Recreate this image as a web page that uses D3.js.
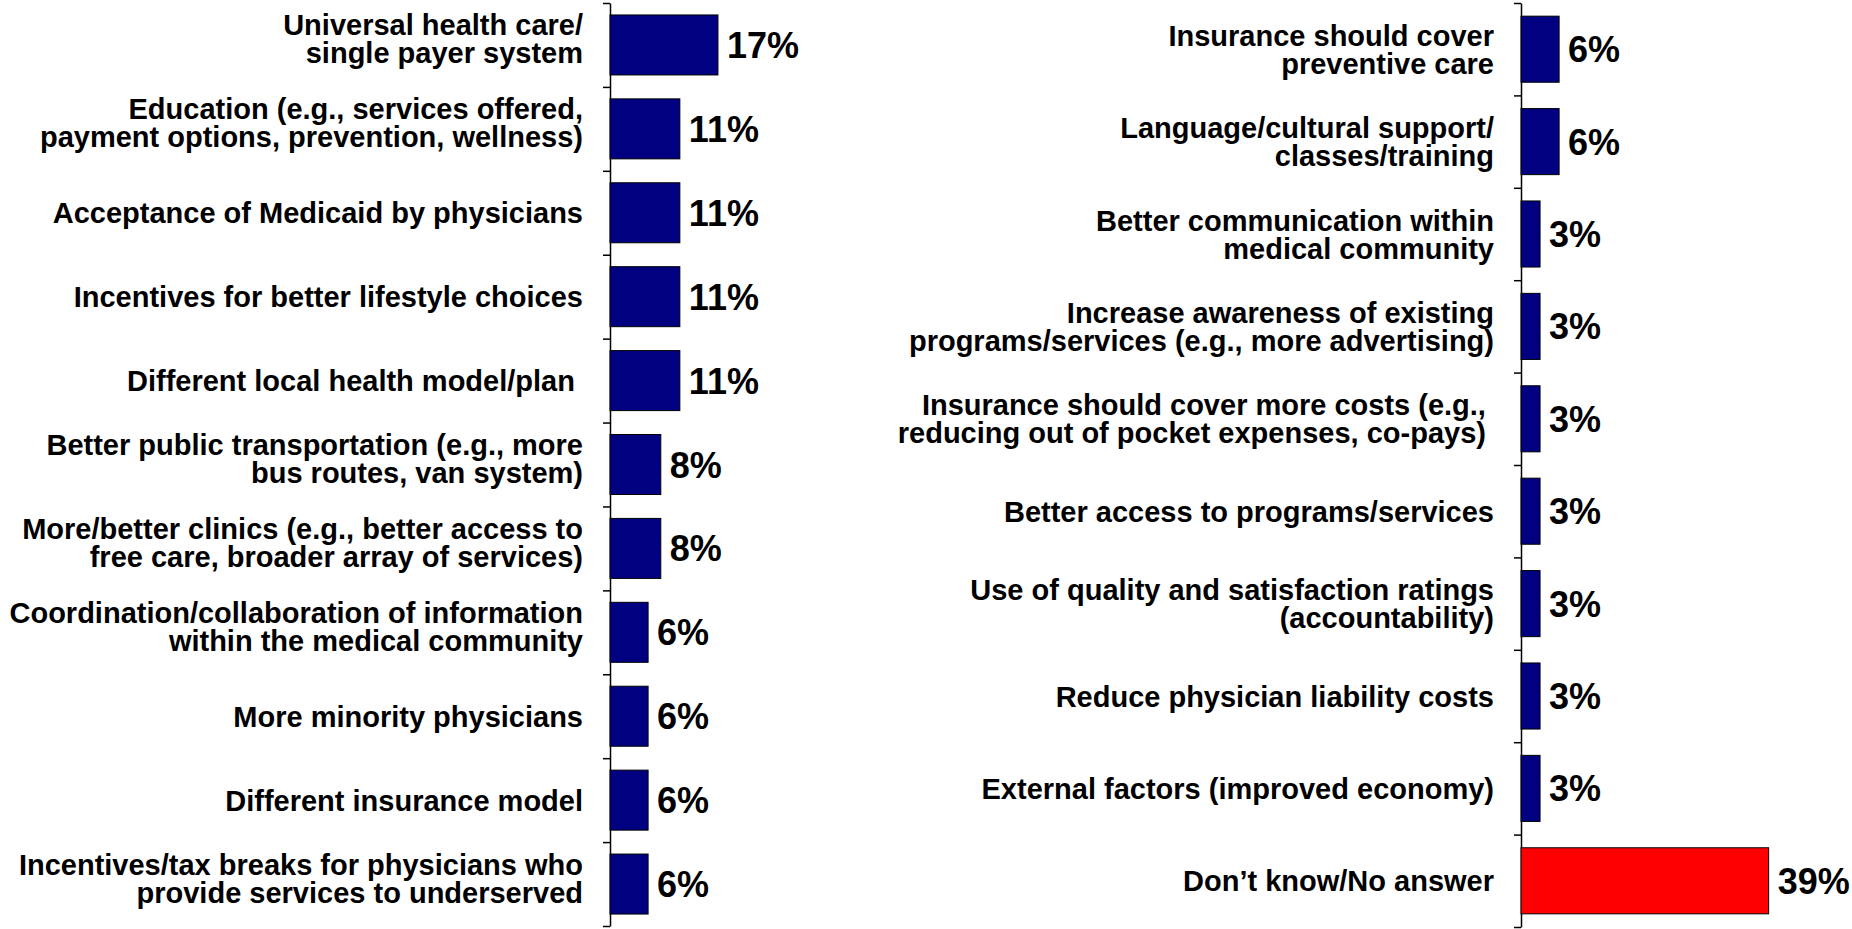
<!DOCTYPE html>
<html>
<head>
<meta charset="utf-8">
<script src="https://cdn.jsdelivr.net/npm/d3@7"></script>
<style>
    body { margin: 0; background: #fff; }
    svg { display: block; font-family: Arial, "Liberation Sans", sans-serif; }
    .cat-label { font-size: 29px; font-weight: bold; fill: #000; white-space: pre; }
    .val-label { font-size: 36px; font-weight: bold; fill: #000; }
</style>
</head>
<body>
<div id="chart"></div>
<script>
// ___________________________ data ___________________________
var leftCategories = [
    "Universal health care/\nsingle payer system",
    "Education (e.g., services offered,\npayment options, prevention, wellness)",
    "Acceptance of Medicaid by physicians",
    "Incentives for better lifestyle choices",
    "Different local health model/plan ",
    "Better public transportation (e.g., more\nbus routes, van system)",
    "More/better clinics (e.g., better access to\nfree care, broader array of services)",
    "Coordination/collaboration of information\nwithin the medical community",
    "More minority physicians",
    "Different insurance model",
    "Incentives/tax breaks for physicians who\nprovide services to underserved"
];
var leftValues = [17, 11, 11, 11, 11, 8, 8, 6, 6, 6, 6];

var rightCategories = [
    "Insurance should cover\npreventive care",
    "Language/cultural support/\nclasses/training",
    "Better communication within\nmedical community",
    "Increase awareness of existing\nprograms/services (e.g., more advertising)",
    "Insurance should cover more costs (e.g., \nreducing out of pocket expenses, co-pays) ",
    "Better access to programs/services",
    "Use of quality and satisfaction ratings\n(accountability)",
    "Reduce physician liability costs",
    "External factors (improved economy)",
    "Don\u2019t know/No answer"
];
var rightValues = [6, 6, 3, 3, 3, 3, 3, 3, 3, 39];

var highlightCategory = "Don\u2019t know/No answer";

// ___________________________ layout ___________________________
const width = 1852;
const height = 929;

const svg = d3.select("#chart")
    .append("svg")
    .attr("width", width)
    .attr("height", height);

// same % scale for both panels
const xScale = d3.scaleLinear().domain([0, 100]).range([0, 635]);

function drawPanel(categories, values, axisX, yTop, yBottom, multiShift) {
    const n = categories.length;

    const yScale = d3.scaleBand()
        .domain(categories)
        .range([yTop, yBottom])
        .paddingInner(0.285)
        .paddingOuter(0.1425);

    // ticks between categories
    const tickScale = d3.scaleLinear().domain([0, n]).range([yTop, yBottom]);
    const axis = d3.axisLeft(tickScale)
        .tickValues(d3.range(n + 1))
        .tickFormat("")
        .tickSizeInner(7)
        .tickSizeOuter(0);

    const g = svg.append("g");

    g.append("g")
        .attr("transform", `translate(${axisX},0)`)
        .call(axis)
        .call(a => a.selectAll("line").attr("stroke", "#000").attr("stroke-width", 1.5))
        .call(a => a.select(".domain").attr("stroke", "#000").attr("stroke-width", 1.5));

    const rows = categories.map((c, i) => ({ cat: c, val: values[i] }));

    // bars
    g.selectAll(".bar")
        .data(rows)
        .enter()
        .append("rect")
        .attr("class", "bar")
        .attr("x", axisX)
        .attr("y", d => yScale(d.cat))
        .attr("width", d => xScale(d.val))
        .attr("height", yScale.bandwidth())
        .attr("fill", d => d.cat === highlightCategory ? "#ff0000" : "#000080")
        .attr("stroke", "#000")
        .attr("stroke-width", 1);

    // numbers next to bars
    g.selectAll(".val-label")
        .data(rows)
        .enter()
        .append("text")
        .attr("class", "val-label")
        .attr("x", d => axisX + xScale(d.val) + 9)
        .attr("y", d => yScale(d.cat) + yScale.bandwidth() / 2 + 13)
        .text(d => d.val + "%");

    // category labels, right aligned
    const lineH = 28;
    const capH = 21;
    g.selectAll(".cat-label")
        .data(rows)
        .enter()
        .append("text")
        .attr("class", "cat-label")
        .attr("text-anchor", "end")
        .each(function (d) {
            const lines = d.cat.split("\n");
            const mid = yScale(d.cat) + yScale.bandwidth() / 2 - (lines.length > 1 ? multiShift : 0);
            const first = mid + capH / 2 - (lines.length - 1) * lineH / 2;
            d3.select(this).selectAll("tspan")
                .data(lines)
                .enter()
                .append("tspan")
                .attr("x", axisX - 27)
                .attr("y", (l, i) => first + i * lineH)
                .text(l => l);
        });
}

drawPanel(leftCategories, leftValues, 610, 3, 926, 6);
drawPanel(rightCategories, rightValues, 1521, 3, 927, 0);
</script>
</body>
</html>
